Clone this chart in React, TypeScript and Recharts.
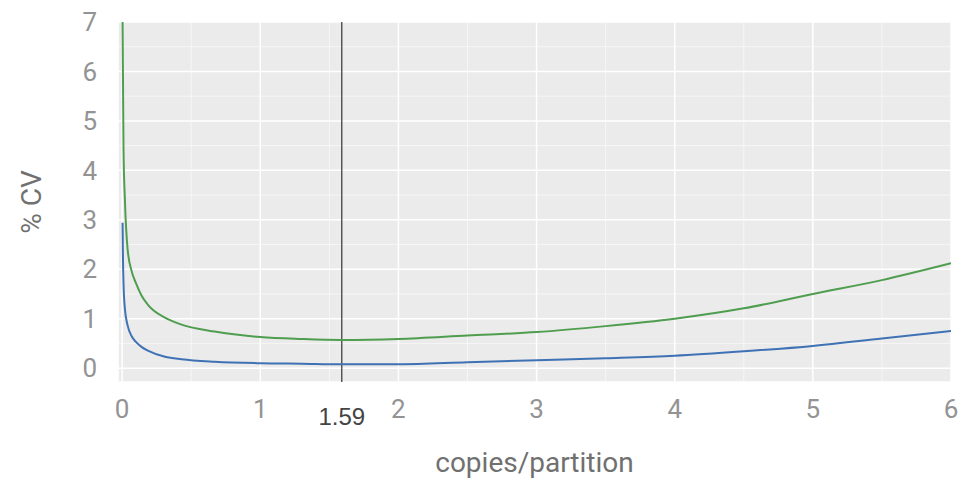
import { LineChart, Line, XAxis, YAxis, CartesianGrid, ReferenceLine, Label } from "recharts";

const copies = [0.003, 0.006, 0.01, 0.02, 0.04, 0.07, 0.1, 0.14, 0.19, 0.31, 0.43, 0.67, 1.0, 1.3, 1.59, 2, 2.5, 3, 3.5, 4, 4.5, 5, 5.5, 6];
const cvGreen = [7, 5.9, 4.4, 3.4, 2.39, 1.95, 1.72, 1.47, 1.27, 1.02, 0.88, 0.74, 0.63, 0.59, 0.57, 0.59, 0.66, 0.73, 0.85, 1.0, 1.21, 1.5, 1.78, 2.12];
const cvBlue = [2.94, 2.2, 1.7, 1.2, 0.86, 0.64, 0.53, 0.43, 0.35, 0.23, 0.18, 0.13, 0.1, 0.09, 0.08, 0.08, 0.12, 0.16, 0.2, 0.25, 0.34, 0.45, 0.6, 0.75];

const xTicks = [0, 1, 2, 3, 4, 5, 6];
const yTicks = [0, 1, 2, 3, 4, 5, 6, 7];
const xMinor = [0.5, 1.5, 2.5, 3.5, 4.5, 5.5];
const yMinor = [0.5, 1.5, 2.5, 3.5, 4.5, 5.5, 6.5];
const optimum = 1.59;

const data = copies.map((c, i) => ({ c, green: cvGreen[i], blue: cvBlue[i] }));

const tickFont = { fontFamily: "'Liberation Sans Narrow', 'Roboto', sans-serif", fontSize: 26, fill: "#939393" };

export default function App() {
  return (
    <div style={{ position: "absolute", left: 0, top: 0 }}>
      <LineChart width={977} height={492} data={data} margin={{ top: 22, right: 26, bottom: 0, left: 0 }}>
        <CartesianGrid fill="#ebebeb" stroke="#ffffff" strokeWidth={1.5} />
        {xMinor.map((v) => (
          <ReferenceLine key={`xm-${v}`} x={v} stroke="#ffffff" strokeWidth={0.8} strokeOpacity={0.7} />
        ))}
        {yMinor.map((v) => (
          <ReferenceLine key={`ym-${v}`} y={v} stroke="#ffffff" strokeWidth={0.8} strokeOpacity={0.7} />
        ))}
        <XAxis
          dataKey="c"
          type="number"
          domain={[-0.03, 6]}
          ticks={xTicks}
          allowDataOverflow
          axisLine={false}
          tickLine={false}
          tickSize={0}
          tickMargin={18}
          height={110}
          tick={tickFont}
        >
          <Label
            value="copies/partition"
            position="insideBottom"
            offset={20}
            style={{ fontFamily: "'Liberation Sans Narrow', 'Roboto', sans-serif", fontSize: 28, fill: "#707070" }}
          />
        </XAxis>
        <YAxis
          type="number"
          domain={[-0.28, 7]}
          ticks={yTicks}
          allowDataOverflow
          axisLine={false}
          tickLine={false}
          tickSize={0}
          tickMargin={21}
          width={118}
          tick={tickFont}
        >
          <Label
            value="% CV"
            angle={-90}
            position="insideLeft"
            offset={31}
            style={{ textAnchor: "middle", fontFamily: "'Liberation Sans Narrow', 'Roboto', sans-serif", fontSize: 28, fill: "#707070" }}
          />
        </YAxis>
        <ReferenceLine
          x={optimum}
          stroke="#333333"
          strokeWidth={1.2}
          label={{ value: "1.59", position: "bottom", offset: 26, fill: "#444444", fontSize: 24, fontFamily: "'Liberation Sans', Arial, sans-serif" }}
        />
        <Line type="monotone" dataKey="green" stroke="#4f9d4f" strokeWidth={2} dot={false} isAnimationActive={false} />
        <Line type="monotone" dataKey="blue" stroke="#3f72b5" strokeWidth={2} dot={false} isAnimationActive={false} />
      </LineChart>
    </div>
  );
}
